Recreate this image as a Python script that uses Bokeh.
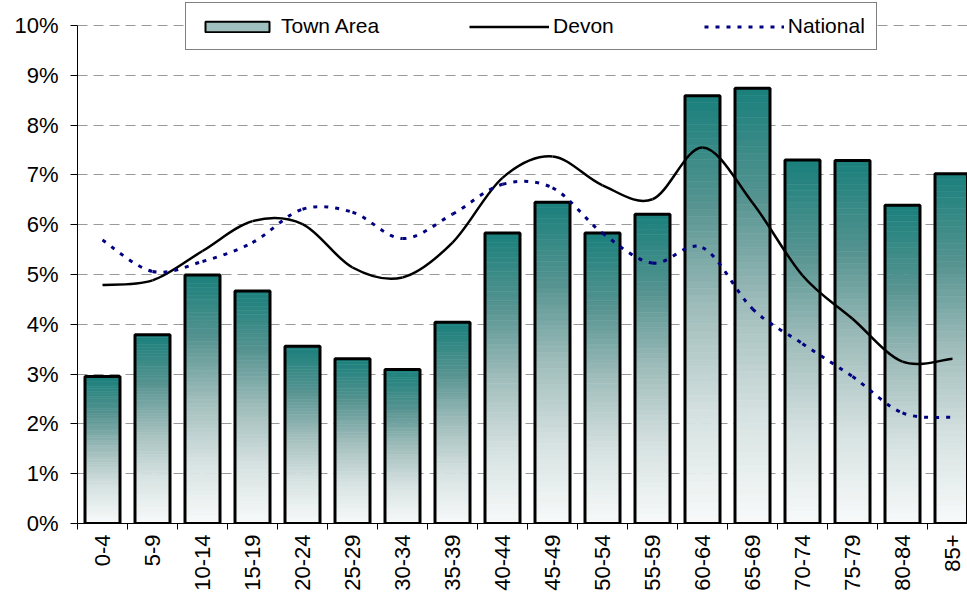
import math
from bokeh.plotting import figure
from bokeh.models import Range1d, FixedTicker, PrintfTickFormatter, Legend, LegendItem
from bokeh.embed import file_html
from bokeh.resources import INLINE

# ---- data (percent of population by age group) ----
ages = ["0-4", "5-9", "10-14", "15-19", "20-24", "25-29", "30-34", "35-39", "40-44",
        "45-49", "50-54", "55-59", "60-64", "65-69", "70-74", "75-79", "80-84", "85+"]
town = [2.95, 3.79, 4.99, 4.67, 3.56, 3.31, 3.09, 4.04, 5.83,
        6.45, 5.83, 6.21, 8.59, 8.74, 7.30, 7.29, 6.39, 7.02]
devon = [4.79, 4.88, 5.47, 6.07, 6.01, 5.14, 4.94, 5.64, 6.94,
         7.37, 6.79, 6.51, 7.55, 6.44, 4.98, 4.11, 3.25, 3.31]
national = [5.69, 5.06, 5.26, 5.64, 6.31, 6.25, 5.72, 6.21, 6.81,
            6.74, 5.83, 5.23, 5.54, 4.31, 3.61, 2.95, 2.22, 2.13]
y_ticks = list(range(0, 11))

FONT = "Liberation Sans"
n = len(ages)
xc = [i + 0.5 for i in range(n)]

W, H = 967, 593
TOP = 1
LEG_Y = 473

p = figure(width=W, height=H, output_backend="svg", toolbar_location=None,
           x_range=Range1d(0, 17.8), y_range=Range1d(0, 10.48),
           min_border_left=77, min_border_top=TOP, min_border_right=0, min_border_bottom=0)
p.outline_line_color = None
p.background_fill_color = "white"
p.border_fill_color = "white"
p.xgrid.visible = False
p.ygrid.ticker = FixedTicker(ticks=y_ticks)
p.ygrid.grid_line_color = "#999999"
p.ygrid.grid_line_dash = "10 6"
p.ygrid.grid_line_width = 1

# ---- gradient bars (vertical slices of each bar) ----
N = 60
stops_t = [0.0, 0.25, 0.5, 0.75, 1.0]
stops_c = [(248, 250, 250), (214, 226, 225), (160, 189, 187), (84, 147, 144), (26, 128, 124)]


def grad(t):
    for j in range(len(stops_t) - 1):
        if t <= stops_t[j + 1]:
            f = (t - stops_t[j]) / (stops_t[j + 1] - stops_t[j])
            c = [round(a + (b - a) * f) for a, b in zip(stops_c[j], stops_c[j + 1])]
            return "#%02x%02x%02x" % tuple(c)
    return "#%02x%02x%02x" % stops_c[-1]


gx, gb, gt, gc = [], [], [], []
for i, v in enumerate(town):
    for k in range(N):
        gx.append(xc[i])
        gb.append(v * k / N)
        gt.append(v * (k + 1) / N)
        gc.append(grad((k + 0.5) / N))
p.vbar(x=gx, bottom=gb, top=gt, width=0.7, fill_color=gc, line_color=gc, line_width=0.6)
p.vbar(x=xc, top=town, width=0.7, fill_color=None, line_color="black", line_width=3)


# ---- smoothed lines (Bezier segments through data points) ----
def bez_args(vals):
    X = xc
    Y = vals
    m = len(Y)
    d = dict(x0=[], y0=[], x1=[], y1=[], cx0=[], cy0=[], cx1=[], cy1=[])
    for i in range(m - 1):
        a = max(i - 1, 0)
        b = min(i + 2, m - 1)
        d["x0"].append(X[i]); d["y0"].append(Y[i])
        d["x1"].append(X[i + 1]); d["y1"].append(Y[i + 1])
        d["cx0"].append(X[i] + (X[i + 1] - X[a]) / 6)
        d["cy0"].append(Y[i] + (Y[i + 1] - Y[a]) / 6)
        d["cx1"].append(X[i + 1] - (X[b] - X[i]) / 6)
        d["cy1"].append(Y[i + 1] - (Y[b] - Y[i]) / 6)
    return d


p.bezier(**bez_args(devon), line_color="black", line_width=2.5)
p.bezier(**bez_args(national), line_color="#000080", line_width=3, line_dash="4 7")

# legend proxies (hidden in the plot, shown only in the legend)
r_town = p.vbar(x=xc, top=town, width=0.7, fill_color="#9fc0be", line_color="black",
                line_width=2, visible=False)
r_dev = p.line(x=xc, y=devon, line_color="black", line_width=2.5, visible=False)
r_nat = p.line(x=xc, y=national, line_color="#000080", line_width=3, line_dash="4 7",
               visible=False)

legend = Legend(items=[LegendItem(label="Town Area", renderers=[r_town]),
                       LegendItem(label="Devon", renderers=[r_dev]),
                       LegendItem(label="National", renderers=[r_nat])],
                orientation="horizontal", location=(108, LEG_Y),
                glyph_width=80, glyph_height=13, label_standoff=4, spacing=90,
                padding=11, margin=0, click_policy="none",
                label_text_font=FONT, label_text_font_size="21px", label_text_color="black",
                border_line_color="black", border_line_width=1,
                background_fill_color="white", background_fill_alpha=1.0)
p.add_layout(legend)

# ---- axes ----
xax = p.xaxis[0]
xax.ticker = FixedTicker(ticks=xc, minor_ticks=list(range(n + 1)))
xax.major_label_overrides = {x: a for x, a in zip(xc, ages)}
xax.major_tick_line_color = None
xax.major_tick_out = 6
xax.major_tick_in = 0
xax.minor_tick_out = 6
xax.minor_tick_in = 0
xax.minor_tick_line_color = "black"
xax.axis_line_color = "black"
xax.major_label_orientation = math.pi / 2
xax.major_label_standoff = 5
xax.major_label_text_font = FONT
xax.major_label_text_font_size = "22px"
xax.major_label_text_color = "black"

yax = p.yaxis[0]
yax.ticker = FixedTicker(ticks=y_ticks)
yax.bounds = (0, 10)
yax.formatter = PrintfTickFormatter(format="%d%%")
yax.major_tick_out = 7
yax.major_tick_in = 0
yax.minor_tick_line_color = None
yax.axis_line_color = "black"
yax.major_tick_line_color = "black"
yax.major_label_standoff = 12
yax.major_label_text_font = FONT
yax.major_label_text_font_size = "22px"
yax.major_label_text_color = "black"

open("out.html", "w").write(file_html(p, INLINE))
